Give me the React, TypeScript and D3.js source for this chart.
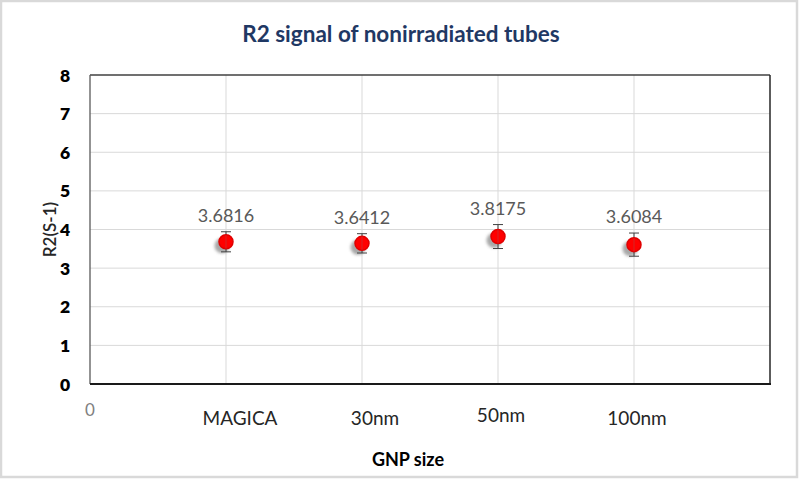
import React from "react";
import * as d3 from "d3";

const categories = ["MAGICA", "30nm", "50nm", "100nm"];
const values = [3.6816, 3.6412, 3.8175, 3.6084];
const errors = [0.26, 0.25, 0.31, 0.3];
const yTicks = [0, 1, 2, 3, 4, 5, 6, 7, 8];
const title = "R2 signal of nonirradiated tubes";
const xTitle = "GNP size";
const yTitle = "R2(S-1)";

const W = 800;
const H = 480;
const M = { left: 90, right: 770, top: 75, bottom: 384 };
// small label nudges as seen in the reference
const labelDx = [14, 13, 3, 3];
const labelDy = [0, 0, -3, 0];

export default function App() {
  const x = d3.scaleLinear().domain([0, 5]).range([M.left, M.right]);
  const y = d3.scaleLinear().domain([0, 8]).range([M.bottom, M.top]);
  const font = "Lato, 'Open Sans', sans-serif";

  return (
    <svg
      width={W}
      height={H}
      style={{ position: "fixed", left: 0, top: 0, background: "#fff" }}
      fontFamily={font}
    >
      <defs>
        <filter id="blur" x="-50%" y="-50%" width="200%" height="200%">
          <feGaussianBlur stdDeviation="1.5" />
        </filter>
      </defs>
      <rect x={1} y={1} width={W - 4} height={H - 4} fill="#fff" stroke="#d9d9d9" strokeWidth={2.5} />
      <text x={401} y={42} textAnchor="middle" fontSize={22.5} fontWeight={700} fill="#1f3864">
        {title}
      </text>
      {/* grid */}
      {yTicks.slice(1, -1).map((t) => (
        <line key={"h" + t} x1={M.left} x2={M.right} y1={y(t)} y2={y(t)} stroke="#d9d9d9" strokeWidth={1} />
      ))}
      {categories.map((c, i) => (
        <line key={"v" + c} x1={x(i + 1)} x2={x(i + 1)} y1={M.top} y2={M.bottom} stroke="#d9d9d9" strokeWidth={1} />
      ))}
      {/* frame */}
      <line x1={M.left} x2={M.right} y1={M.top} y2={M.top} stroke="#404040" strokeWidth={1.3} />
      <line x1={M.left} x2={M.left} y1={M.top} y2={M.bottom} stroke="#595959" strokeWidth={1.3} />
      <line x1={M.right} x2={M.right} y1={M.top} y2={M.bottom} stroke="#262626" strokeWidth={1.5} />
      <line x1={M.left} x2={M.right + 1} y1={M.bottom} y2={M.bottom} stroke="#1a1a1a" strokeWidth={2.2} />
      {/* y ticks */}
      {yTicks.map((t) => (
        <text key={"yt" + t} x={65} y={y(t) + 6.5} textAnchor="middle" fontSize={17.5} fontWeight={800} fill="#000">
          {t}
        </text>
      ))}
      <text
        transform={`translate(56,${(M.top + M.bottom) / 2}) rotate(-90)`}
        textAnchor="middle"
        fontSize={17}
        fontWeight={600}
        fill="#262626"
      >
        {yTitle}
      </text>
      {/* x labels */}
      <text x={x(0)} y={416} textAnchor="middle" fontSize={17} fill="#808080">
        0
      </text>
      {categories.map((c, i) => (
        <text key={"xl" + c} x={x(i + 1) + labelDx[i]} y={425 + labelDy[i]} textAnchor="middle" fontSize={19} fill="#262626">
          {c}
        </text>
      ))}
      <text x={408} y={466} textAnchor="middle" fontSize={18} fontWeight={700} fill="#000">
        {xTitle}
      </text>
      {/* points */}
      {values.map((v, i) => {
        const cx = x(i + 1);
        const cy = y(v);
        const top = y(v + errors[i]);
        const bot = y(v - errors[i]);
        return (
          <g key={"p" + i}>
            <circle cx={cx - 4} cy={cy + 4} r={7.5} fill="#999" opacity={0.85} filter="url(#blur)" />
            <line x1={cx} x2={cx} y1={top} y2={bot} stroke="#404040" strokeWidth={1} />
            <line x1={cx - 5} x2={cx + 5} y1={top} y2={top} stroke="#404040" strokeWidth={1} />
            <line x1={cx - 5} x2={cx + 5} y1={bot} y2={bot} stroke="#404040" strokeWidth={1} />
            <circle cx={cx} cy={cy} r={7} fill="#ff0000" stroke="#e00000" strokeWidth={1.5} />
            <line x1={cx} x2={cx} y1={cy - 7} y2={cy + 7} stroke="#a05050" strokeWidth={0.8} opacity={0.6} />
            <text x={cx} y={top - 10} textAnchor="middle" fontSize={18} fill="#595959">
              {v.toFixed(4)}
            </text>
          </g>
        );
      })}
    </svg>
  );
}
